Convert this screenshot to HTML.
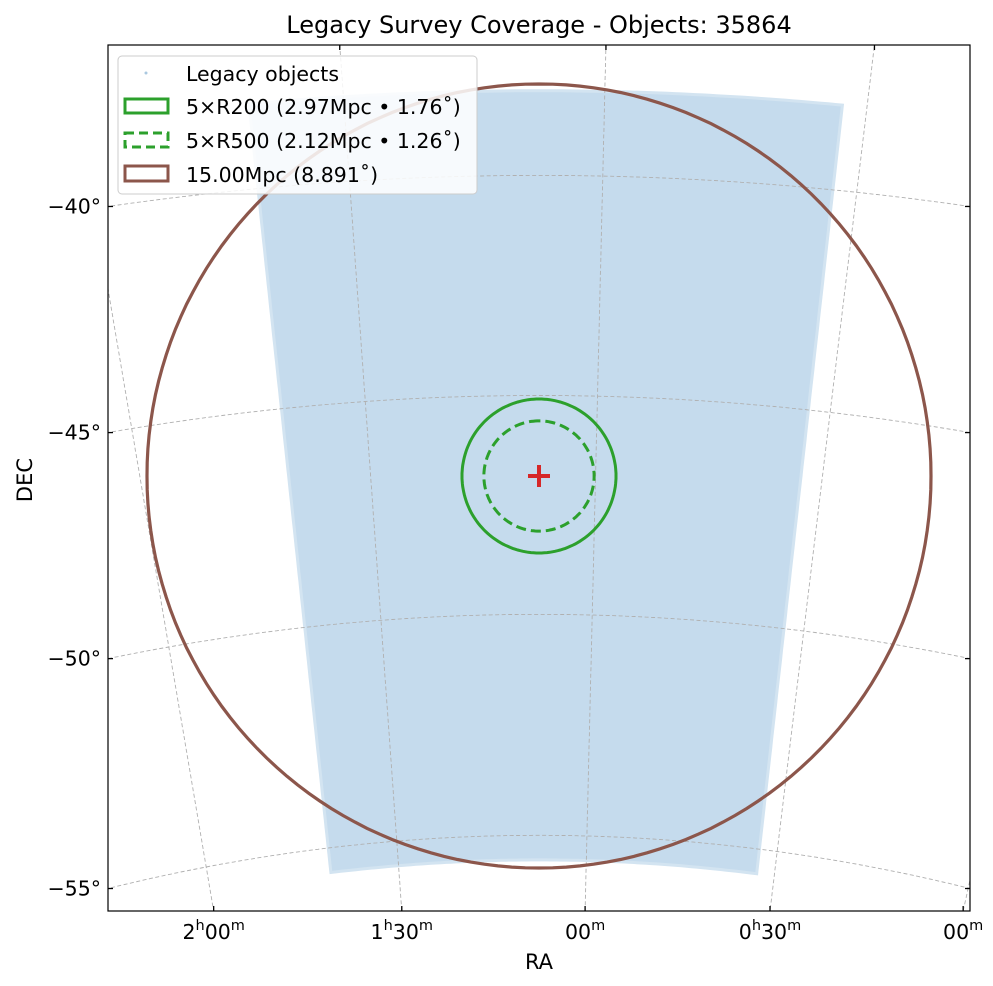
<!DOCTYPE html>
<html><head><meta charset="utf-8">
<style>
html,body{margin:0;padding:0;background:#fff;width:993px;height:986px;overflow:hidden;}
svg{display:block;font-family:"DejaVu Sans","Liberation Sans",sans-serif;}
</style></head>
<body>
<svg id="chart" width="993" height="986" viewBox="0 0 993 986" xmlns="http://www.w3.org/2000/svg">
<defs><clipPath id="plotclip"><rect x="108" y="45" width="862" height="866"/></clipPath></defs>
<rect x="0" y="0" width="993" height="986" fill="#fff"/>
<text x="539" y="33" text-anchor="middle" font-size="24" fill="#000">Legacy Survey Coverage - Objects: 35864</text>
<g id="plot" clip-path="url(#plotclip)"></g>
<g id="ticks"></g>
<rect x="108" y="45" width="862" height="866" fill="none" stroke="#000" stroke-width="1.2"/>
<text x="539" y="969" text-anchor="middle" font-size="21">RA</text>
<text x="32" y="480" text-anchor="middle" font-size="21" transform="rotate(-90 32 480)">DEC</text>
<g>
<rect x="118" y="56" width="359" height="138" rx="4" fill="#fff" fill-opacity="0.85" stroke="#ccc" stroke-width="1"/>
<circle cx="146" cy="73" r="1.5" fill="#aac8e0"/>
<text x="186" y="81" font-size="20.5">Legacy objects</text>
<rect x="125" y="99" width="43" height="14" fill="none" stroke="#2ca02c" stroke-width="3"/>
<text x="186" y="114" font-size="20.5">5×R200 (2.97Mpc • 1.76˚)</text>
<rect x="125" y="133" width="43" height="14" fill="none" stroke="#2ca02c" stroke-width="3" stroke-dasharray="9,5"/>
<text x="186" y="148" font-size="20.5">5×R500 (2.12Mpc • 1.26˚)</text>
<rect x="125" y="166" width="43" height="15" fill="none" stroke="#8c564b" stroke-width="3"/>
<text x="186" y="182" font-size="20.5">15.00Mpc (8.891˚)</text>
</g>
</svg>
<script>
// ---- data ----
const center = [16.89, -46.84];            // RA, Dec of cluster (deg)
const footprintRA = [8.2, 25.2];           // RA bounds of survey footprint (deg)
const footprintDec = [-55.55, -38.1];      // Dec bounds of footprint (deg)
const circleNames = ['r200-circle', 'r500-circle', 'radius-15mpc-circle'];
const circleRadii = [1.76, 1.26, 8.891];   // deg
const gridRA = [0, 7.5, 15, 22.5, 30, 37.5];
const gridRALabels = ['00m', '0h30m', '00m', '1h30m', '2h00m', '2h30m'];
const gridDec = [-60, -55, -50, -45, -40, -35];
const gridDecLabels = ['−60°', '−55°', '−50°', '−45°', '−40°', '−35°'];

// ---- projection (gnomonic) ----
const NS = 'http://www.w3.org/2000/svg';
const CX = 539, CY = 476, K = 2506, L = 108, R = 970, T = 45, B = 911;
const d2r = Math.PI / 180;
function proj(ra, dec) {
  const a = (ra - center[0]) * d2r, d = dec * d2r, d0 = center[1] * d2r;
  const cosc = Math.sin(d0) * Math.sin(d) + Math.cos(d0) * Math.cos(d) * Math.cos(a);
  const X = Math.cos(d) * Math.sin(a) / cosc;
  const Y = (Math.cos(d0) * Math.sin(d) - Math.sin(d0) * Math.cos(d) * Math.cos(a)) / cosc;
  return [CX - K * X, CY - K * Y];
}
function offset(ra0, dec0, rad, pa) {
  const d0 = dec0 * d2r, r = rad * d2r, p = pa * d2r;
  const d = Math.asin(Math.sin(d0) * Math.cos(r) + Math.cos(d0) * Math.sin(r) * Math.cos(p));
  const a = Math.atan2(Math.sin(p) * Math.sin(r) * Math.cos(d0), Math.cos(r) - Math.sin(d0) * Math.sin(d));
  return [ra0 + a / d2r, d / d2r];
}
function ptsStr(pts) { return pts.map(p => p[0].toFixed(1) + ',' + p[1].toFixed(1)).join(' '); }
const plot = document.getElementById('plot');
const ticks = document.getElementById('ticks');
function mk(tag, attrs, parent) {
  const e = document.createElementNS(NS, tag);
  for (const k in attrs) e.setAttribute(k, attrs[k]);
  parent.appendChild(e);
  return e;
}

// footprint
const fp = [];
for (let ra = footprintRA[1]; ra >= footprintRA[0]; ra -= 0.2) fp.push(proj(ra, footprintDec[1]));
for (let dec = footprintDec[1]; dec >= footprintDec[0]; dec -= 0.2) fp.push(proj(footprintRA[0], dec));
for (let ra = footprintRA[0]; ra <= footprintRA[1]; ra += 0.2) fp.push(proj(ra, footprintDec[0]));
for (let dec = footprintDec[0]; dec <= footprintDec[1]; dec += 0.2) fp.push(proj(footprintRA[1], dec));
const fpEl = mk('polygon', {points: ptsStr(fp), fill: '#c5dbed', stroke: '#d3e4f1', 'stroke-width': 3}, plot);



// grid lines
const gridStyle = {fill: 'none', stroke: '#b0b0b0', 'stroke-width': 0.9, 'stroke-dasharray': '4,2.5'};
const raLines = [], decLines = [];
gridRA.forEach((ra, i) => {
  const pts = [];
  for (let dec = -70; dec <= -25; dec += 0.1) pts.push(proj(ra, dec));
  raLines.push(pts);
  const el = mk('polyline', Object.assign({points: ptsStr(pts)}, gridStyle), plot);
  
  
});
gridDec.forEach((dec, i) => {
  const pts = [];
  for (let ra = -15; ra <= 50; ra += 0.1) pts.push(proj(ra, dec));
  decLines.push(pts);
  const el = mk('polyline', Object.assign({points: ptsStr(pts)}, gridStyle), plot);
  
  
});

// circles
const circleStyles = [
  {stroke: '#2ca02c', 'stroke-width': 3, fill: 'none'},
  {stroke: '#2ca02c', 'stroke-width': 3, fill: 'none', 'stroke-dasharray': '10,5'},
  {stroke: '#8c564b', 'stroke-width': 3.2, fill: 'none'}
];
circleRadii.forEach((r, i) => {
  const pts = [];
  for (let pa = 0; pa <= 360; pa += 2) { const o = offset(center[0], center[1], r, pa); pts.push(proj(o[0], o[1])); }
  const el = mk('polyline', Object.assign({points: ptsStr(pts)}, circleStyles[i]), plot);
  
  
});

// center marker
const c = proj(center[0], center[1]);
const cross = mk('path', {d: `M${c[0]-11},${c[1]}H${c[0]+11}M${c[0]},${c[1]-11}V${c[1]+11}`, stroke: '#d62728', 'stroke-width': 4, fill: 'none'}, plot);



// ticks
function crossings(pts) {
  const res = [];
  for (let i = 1; i < pts.length; i++) {
    const [x0, y0] = pts[i-1], [x1, y1] = pts[i];
    [[L,'left'],[R,'right']].forEach(([v,side]) => {
      if ((x0 - v) * (x1 - v) <= 0 && x0 !== x1) { const t = (v - x0)/(x1 - x0); const y = y0 + t*(y1 - y0); if (y >= T && y <= B) res.push([side, v, y]); }
    });
    [[T,'top'],[B,'bottom']].forEach(([v,side]) => {
      if ((y0 - v) * (y1 - v) <= 0 && y0 !== y1) { const t = (v - y0)/(y1 - y0); const x = x0 + t*(x1 - x0); if (x >= L && x <= R) res.push([side, x, v]); }
    });
  }
  return res;
}
function tick(side, a, b) {
  let d;
  if (side === 'left') d = `M${L},${b}h5`;
  if (side === 'right') d = `M${R},${b}h-5`;
  if (side === 'top') d = `M${a},${T}v5`;
  if (side === 'bottom') d = `M${a},${B}v-5`;
  const el = mk('path', {d: d, stroke: '#000', 'stroke-width': 1.3}, ticks);
  
  
}
raLines.forEach((pts, i) => {
  crossings(pts).forEach(([side, a, b]) => {
    if (side === 'left' || side === 'right') return;
    tick(side, a, b);
    if (side === 'bottom') {
      const lab = gridRALabels[i];
      const t = mk('text', {x: a, y: B + 28, 'text-anchor': 'middle', 'font-size': 20.5}, ticks);
      
      
      const m = lab.match(/^(\d)h(\d\d)m$/);
      if (m) {
        t.innerHTML = `${m[1]}<tspan font-size="14.5" dy="-9">h</tspan><tspan dy="9">${m[2]}</tspan><tspan font-size="14.5" dy="-9">m</tspan>`;
      } else {
        t.innerHTML = `${lab.slice(0,2)}<tspan font-size="14.5" dy="-9">m</tspan>`;
      }
    }
  });
});
decLines.forEach((pts, i) => {
  crossings(pts).forEach(([side, a, b]) => {
    if (side === 'top' || side === 'bottom') return;
    tick(side, a, b);
    if (side === 'left') {
      const t = mk('text', {x: L - 7, y: b + 7, 'text-anchor': 'end', 'font-size': 20.5}, ticks);
      
      
      t.textContent = gridDecLabels[i];
    }
  });
});
</script>
</body></html>
